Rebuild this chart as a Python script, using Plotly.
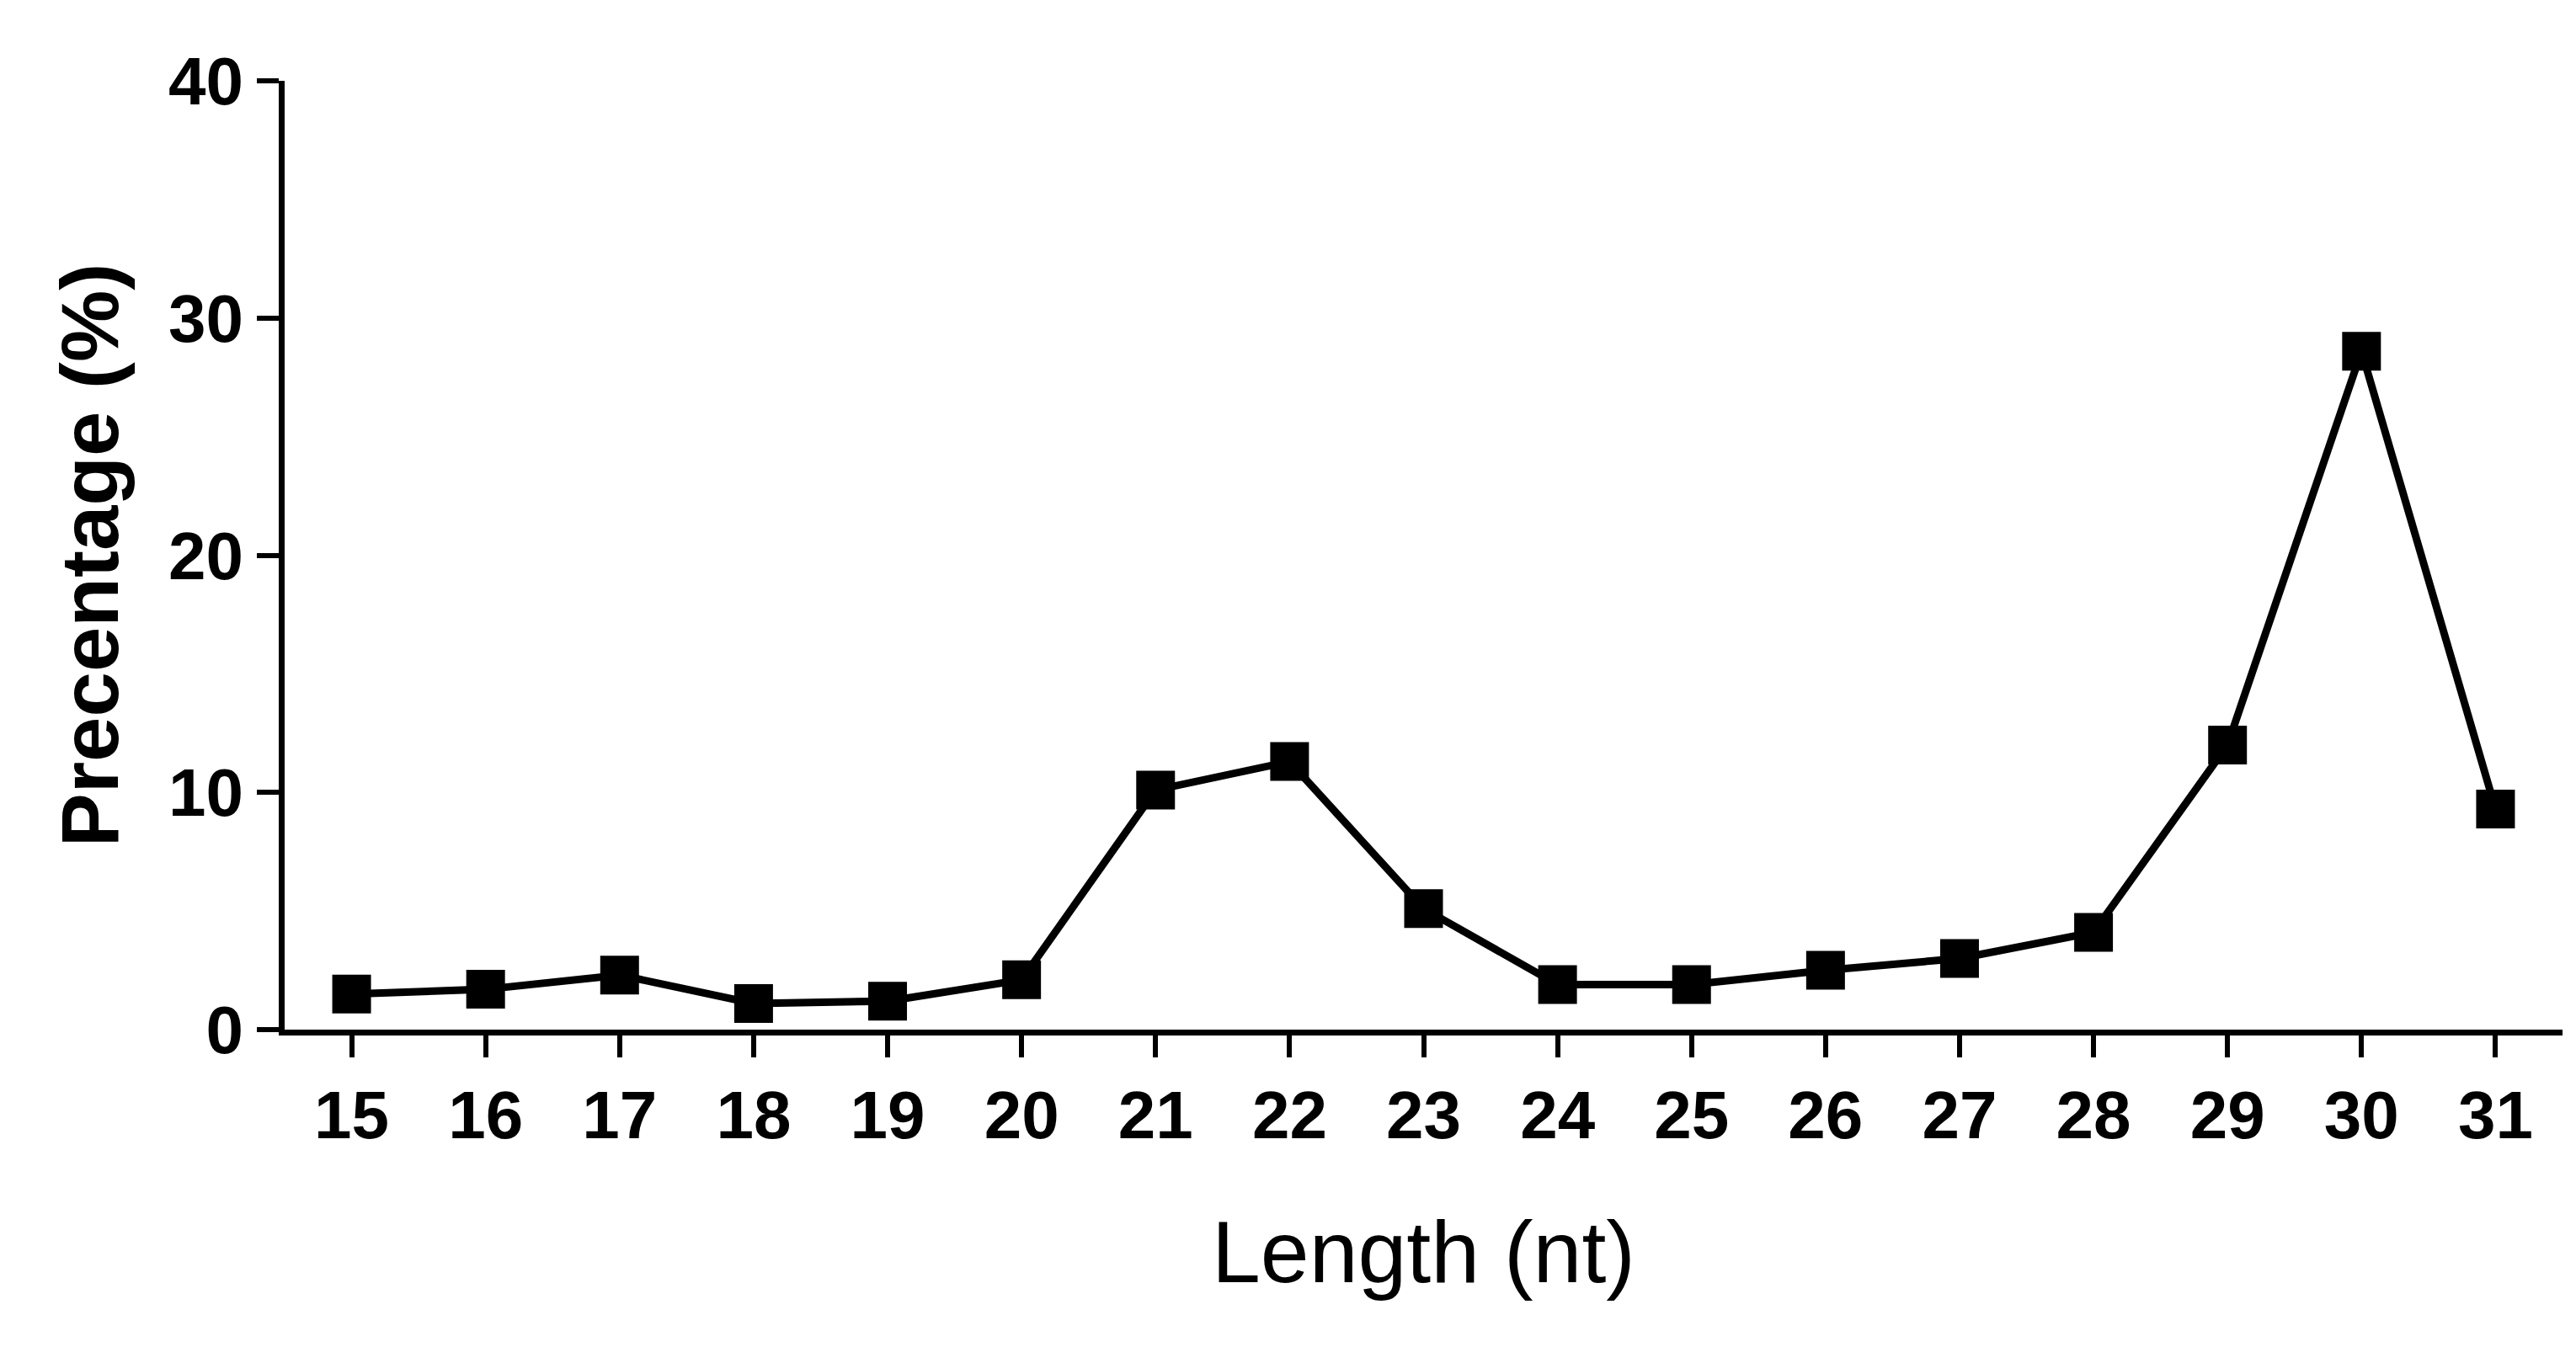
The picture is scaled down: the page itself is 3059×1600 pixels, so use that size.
import plotly.graph_objects as go

lengths = list(range(15, 32))
percent = [1.5, 1.7, 2.3, 1.1, 1.2, 2.1, 10.1, 11.3, 5.1, 1.9, 1.9, 2.5, 3.0, 4.1, 12.0, 28.6, 9.3]

fig = go.Figure(go.Scatter(
    x=lengths, y=percent, mode="lines+markers",
    line=dict(color="black", width=9),
    marker=dict(symbol="square", size=46, color="black"),
    cliponaxis=False,
))
font = "Liberation Sans, Arial, sans-serif"
fig.update_layout(
    width=3059, height=1600, plot_bgcolor="white", paper_bgcolor="white",
    margin=dict(l=330, r=24, t=88, b=385), showlegend=False,
    font=dict(family=font, color="black"),
)
fig.update_xaxes(range=[14.5, 31.5], tickvals=lengths, ticktext=[f"<b>{v}</b>" for v in lengths],
                 tickfont=dict(size=80), showline=True, linewidth=7, linecolor="black",
                 ticks="outside", ticklen=26, tickwidth=6, tickcolor="black", showgrid=False, zeroline=False,
                 title=dict(text="Length (nt)", font=dict(size=104), standoff=85))
fig.update_yaxes(range=[0, 40], tickvals=[0, 10, 20, 30, 40], ticktext=[f"<b>{v}</b>" for v in [0, 10, 20, 30, 40]],
                 tickfont=dict(size=80), showline=True, linewidth=7, linecolor="black",
                 ticks="outside", ticklen=26, tickwidth=6, tickcolor="black", showgrid=False, zeroline=False,
                 title=dict(text="<b>Precentage (%)</b>", font=dict(size=96), standoff=30))
fig.write_html("out.html")
